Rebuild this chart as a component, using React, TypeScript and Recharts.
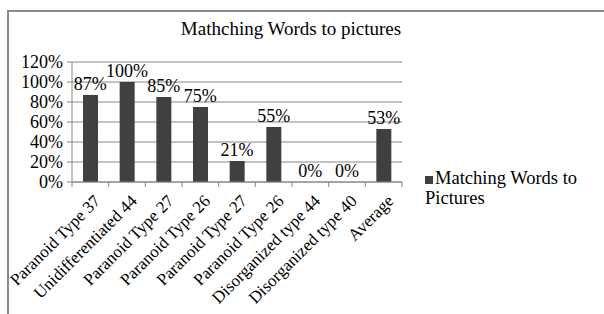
import React from 'react';
import { ComposedChart, Bar, Line, XAxis, YAxis, CartesianGrid, LabelList } from 'recharts';

const categories = [
  'Paranoid Type 37',
  'Unidifferentiated 44',
  'Paranoid Type 27',
  'Paranoid Type 26',
  'Paranoid Type 27',
  'Paranoid Type 26',
  'Disorganized type 44',
  'Disorganized type 40',
  'Average',
];
const matchingValues = [0.87, 1.0, 0.85, 0.75, 0.21, 0.55, 0, 0, 0.53];
const yTicks = [0, 0.2, 0.4, 0.6, 0.8, 1.0, 1.2];

const seriesName = 'Matching Words to Pictures';
const title = 'Mathching Words to pictures';

const data = categories.map((name, i) => ({ name, value: matchingValues[i] }));

const W = 604;
const H = 314;
const PLOT_LEFT = 72;
const PLOT_RIGHT = 402;
const PLOT_TOP = 62;
const PLOT_BOTTOM = 182;
const BAND = (PLOT_RIGHT - PLOT_LEFT) / categories.length;
const FONT = '"Liberation Serif", "Times New Roman", serif';
const GREY = '#878787';

const pct = (v: number) => `${Math.round(v * 100)}%`;

function XTick(props: any) {
  const { x, y, payload, index } = props;
  const ax = x + 11;
  const ay = y + 20;
  return (
    <g>
      <line x1={x - BAND / 2} y1={y} x2={x - BAND / 2} y2={y + 5} stroke={GREY} />
      {index === categories.length - 1 && (
        <line x1={x + BAND / 2} y1={y} x2={x + BAND / 2} y2={y + 5} stroke={GREY} />
      )}
      <text
        x={ax}
        y={ay}
        textAnchor="end"
        fontSize={17}
        fontFamily={FONT}
        fill="#000"
        transform={`rotate(-45, ${ax}, ${ay})`}
      >
        {payload.value}
      </text>
    </g>
  );
}

export default function App() {
  return (
    <div
      style={{
        position: 'absolute',
        left: 0,
        top: 0,
        width: W,
        height: H,
        overflow: 'hidden',
        background: '#fff',
        fontFamily: FONT,
      }}
    >
      {/* outer chart frame */}
      <div
        style={{
          position: 'absolute',
          left: 7,
          top: 10,
          width: 800,
          height: 500,
          border: '2px solid #8a8a8a',
        }}
      />
      <div
        style={{
          position: 'absolute',
          left: 0,
          width: 582,
          top: 17,
          textAlign: 'center',
          fontSize: 19,
          lineHeight: '24px',
          color: '#000',
        }}
      >
        {title}
      </div>

      <ComposedChart
        width={W}
        height={H}
        data={data}
        margin={{ top: PLOT_TOP, left: 0, right: W - PLOT_RIGHT, bottom: 0 }}
        style={{ position: 'absolute', left: 0, top: 0 }}
      >
        <CartesianGrid vertical={false} stroke={GREY} />
        <XAxis
          dataKey="name"
          interval={0}
          height={H - PLOT_BOTTOM}
          axisLine={{ stroke: GREY }}
          tickLine={false}
          tickSize={0}
          tickMargin={0}
          tick={<XTick />}
        />
        <YAxis
          width={PLOT_LEFT}
          domain={[0, 1.2]}
          ticks={yTicks}
          interval={0}
          tickFormatter={pct}
          axisLine={{ stroke: GREY }}
          tickLine={{ stroke: GREY }}
          tickSize={5}
          tickMargin={4}
          tick={{ fontSize: 18, fontFamily: FONT, fill: '#000' }}
        />
        <Bar dataKey="value" fill="#404040" barSize={15} isAnimationActive={false} />
        {/* invisible line only carries the value labels, so 0% gets one too */}
        <Line
          dataKey="value"
          stroke="none"
          dot={false}
          activeDot={false}
          legendType="none"
          isAnimationActive={false}
        >
          <LabelList
            dataKey="value"
            position="top"
            offset={5}
            formatter={(v: any) => pct(Number(v))}
            style={{ fontSize: 18, fontFamily: FONT, fill: '#000' }}
          />
        </Line>
      </ComposedChart>

      {/* legend */}
      <div
        style={{
          position: 'absolute',
          left: 425,
          top: 168,
          width: 170,
          fontSize: 18.5,
          lineHeight: '20px',
          color: '#000',
        }}
      >
        <span
          style={{
            display: 'inline-block',
            width: 8,
            height: 8,
            background: '#404040',
            marginRight: 2,
            verticalAlign: 'baseline',
          }}
        />
        {seriesName}
      </div>
    </div>
  );
}
